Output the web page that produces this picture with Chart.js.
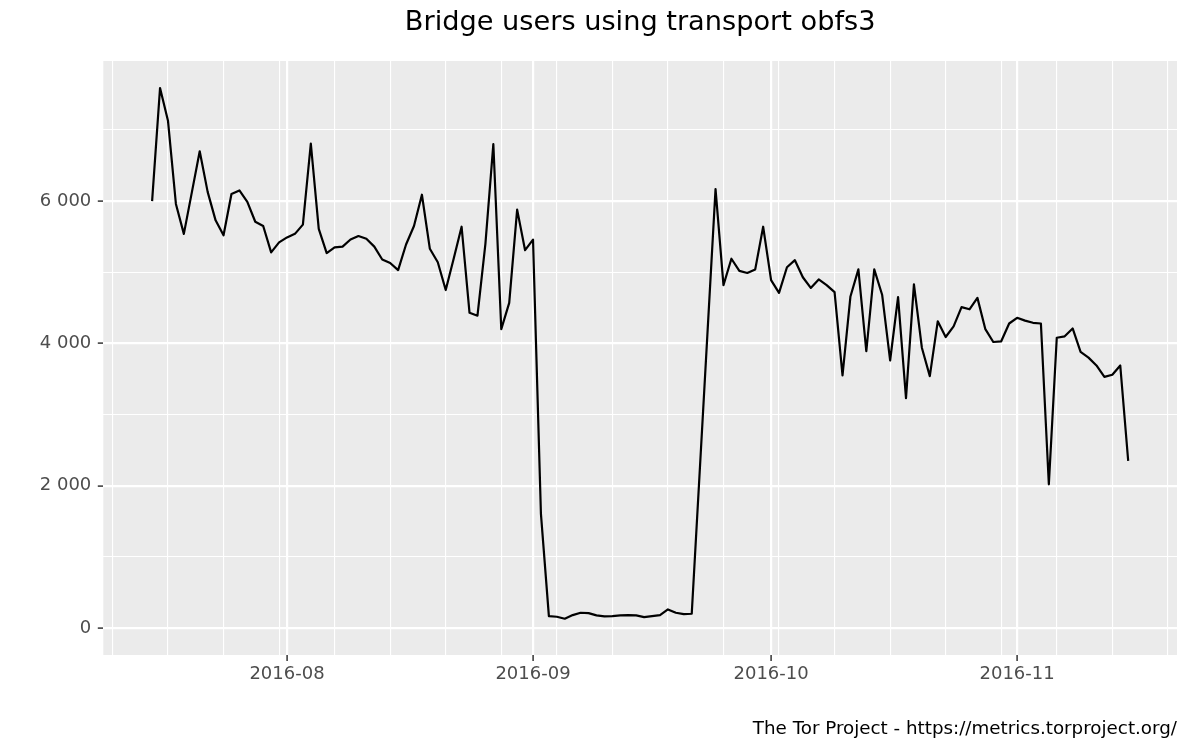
<!DOCTYPE html>
<html>
<head>
<meta charset="utf-8">
<title>Bridge users using transport obfs3</title>
<script src="https://cdn.jsdelivr.net/npm/chart.js@4.4.1/dist/chart.umd.min.js"></script>
<style>
  html, body { margin: 0; padding: 0; background: #ffffff; }
  #wrap { width: 1200px; height: 750px; }
</style>
</head>
<body>
<div id="wrap"><canvas id="usersChart" width="1200" height="750"></canvas></div>
<script>
// Daily bridge users for the obfs3 transport, one value per day from firstDate on
const firstDate = '2016-07-15';
const julyUsers = [6000, 7590, 7130, 5960, 5540, 6120, 6700, 6130, 5730, 5520, 6100, 6150, 5990, 5710, 5650, 5280, 5420];
const augustUsers = [5490, 5540, 5670, 6810, 5610, 5270, 5350, 5360, 5460, 5510,
                     5470, 5360, 5180, 5130, 5030, 5390, 5650, 6090, 5330, 5140,
                     4750, 5190, 5640, 4430, 4390, 5400, 6800, 4200, 4570, 5880, 5310];
const septemberUsers = [5460, 1600, 167, 158, 130, 181, 214, 209, 177, 163,
                        167, 177, 181, 177, 153, 167, 181, 261, 214, 195,
                        200, 2190, 4180, 6170, 4820, 5190, 5020, 4990, 5040, 5640];
const octoberUsers = [4890, 4710, 5070, 5170, 4930, 4780, 4900, 4820, 4720, 3550,
                      4660, 5040, 3890, 5040, 4680, 3760, 4650, 3230, 4830, 3940,
                      3540, 4310, 4090, 4240, 4510, 4480, 4640, 4200, 4020, 4030, 4280];
const novemberUsers = [4360, 4320, 4290, 4280, 2020, 4080, 4100, 4210, 3880, 3800, 3690, 3530, 3560, 3690, 2350];

// Axis breaks and labels
const monthTicks = ['2016-08-01', '2016-09-01', '2016-10-01', '2016-11-01'];
const monthLabels = ['2016-08', '2016-09', '2016-10', '2016-11'];
const firstWeekBreak = '2016-07-10'; // minor grid lines fall on Sundays
const userTicks = [0, 2000, 4000, 6000];
const userTickLabels = ['0', '2 000', '4 000', '6 000'];
const minorUserTicks = [1000, 3000, 5000, 7000];

const titleText = 'Bridge users using transport obfs3';
const captionText = 'The Tor Project - https://metrics.torproject.org/';

const users = [].concat(julyUsers, augustUsers, septemberUsers, octoberUsers, novemberUsers);

// days since epoch, so the x scale can stay linear (no date adapter needed)
const dayNum = s => Date.parse(s + 'T00:00:00Z') / 86400000;

const startDay = dayNum(firstDate);
const points = users.map((v, i) => ({ x: startDay + i, y: v }));

// ggplot-like 5% expansion on both axes, y limited at 0 from below
const endDay = startDay + users.length - 1;
const xPad = (endDay - startDay) * 0.05;
const xMin = startDay - xPad;
const xMax = endDay + xPad;
const yTop = Math.max(...users);
const yMin = -yTop * 0.05;
const yMax = yTop * 1.05;

const weekBreaks = [];
for (let d = dayNum(firstWeekBreak); d <= xMax; d += 7) {
    weekBreaks.push(d);
}

const FONT = "'DejaVu Sans', 'Liberation Sans', sans-serif";
const tickFont = { family: FONT, size: 18 };

// Grey panel behind the grid, plus title and caption
const ggPanel = {
    id: 'ggPanel',
    beforeDraw(chart) {
        const { ctx, chartArea } = chart;
        ctx.save();
        ctx.fillStyle = '#ffffff';
        ctx.fillRect(0, 0, chart.width, chart.height);
        ctx.fillStyle = '#EBEBEB';
        ctx.fillRect(chartArea.left, chartArea.top, chartArea.right - chartArea.left, chartArea.bottom - chartArea.top);
        ctx.restore();
    },
    afterDraw(chart) {
        const { ctx, chartArea } = chart;
        ctx.save();
        ctx.fillStyle = '#000000';
        ctx.textBaseline = 'middle';
        ctx.font = `27.2px ${FONT}`;
        ctx.textAlign = 'center';
        ctx.fillText(titleText, (chartArea.left + chartArea.right) / 2, 23);
        ctx.font = `18.3px ${FONT}`;
        ctx.textAlign = 'right';
        ctx.fillText(captionText, chartArea.right, 729);
        ctx.restore();
    }
};

const ctx = document.getElementById('usersChart');
new Chart(ctx, {
    type: 'line',
    data: {
        datasets: [{
            label: 'obfs3',
            data: points,
            borderColor: '#000000',
            borderWidth: 2.2,
            borderJoinStyle: 'round',
            pointRadius: 0,
            tension: 0,
            fill: false,
            xAxisID: 'x',
            yAxisID: 'y'
        }]
    },
    options: {
        responsive: false,
        animation: false,
        devicePixelRatio: 1,
        layout: { padding: { top: 61, right: 23, left: 0, bottom: 0 } },
        plugins: {
            legend: { display: false },
            tooltip: { enabled: false },
            title: { display: false }
        },
        scales: {
            xWeeks: {
                type: 'linear',
                axis: 'x',
                position: 'bottom',
                min: xMin,
                max: xMax,
                afterBuildTicks: scale => { scale.ticks = weekBreaks.map(v => ({ value: v })); },
                afterFit: scale => { scale.height = 0; },
                ticks: { display: false },
                grid: { color: '#ffffff', lineWidth: 1.1, drawTicks: false },
                border: { display: false }
            },
            yMinor: {
                type: 'linear',
                axis: 'y',
                position: 'left',
                min: yMin,
                max: yMax,
                afterBuildTicks: scale => { scale.ticks = minorUserTicks.map(v => ({ value: v })); },
                afterFit: scale => { scale.width = 0; },
                ticks: { display: false },
                grid: { color: '#ffffff', lineWidth: 1.1, drawTicks: false },
                border: { display: false }
            },
            x: {
                type: 'linear',
                position: 'bottom',
                min: xMin,
                max: xMax,
                afterBuildTicks: scale => { scale.ticks = monthTicks.map(s => ({ value: dayNum(s) })); },
                afterFit: scale => { scale.height = 95; },
                ticks: {
                    autoSkip: false,
                    maxRotation: 0,
                    padding: 3,
                    color: '#4D4D4D',
                    font: tickFont,
                    callback: (value, index) => monthLabels[index]
                },
                grid: { color: '#ffffff', lineWidth: 2.2, drawTicks: true, tickLength: 6, tickColor: '#333333', tickWidth: 1.5 },
                border: { display: false }
            },
            y: {
                type: 'linear',
                position: 'left',
                min: yMin,
                max: yMax,
                afterBuildTicks: scale => { scale.ticks = userTicks.map(v => ({ value: v })); },
                afterFit: scale => { scale.width = 103.3; },
                ticks: {
                    autoSkip: false,
                    padding: 6.5,
                    color: '#4D4D4D',
                    font: tickFont,
                    callback: (value, index) => userTickLabels[index]
                },
                grid: { color: '#ffffff', lineWidth: 2.2, drawTicks: true, tickLength: 5.5, tickColor: '#333333', tickWidth: 1.5 },
                border: { display: false }
            }
        }
    },
    plugins: [ggPanel]
});
</script>
</body>
</html>
